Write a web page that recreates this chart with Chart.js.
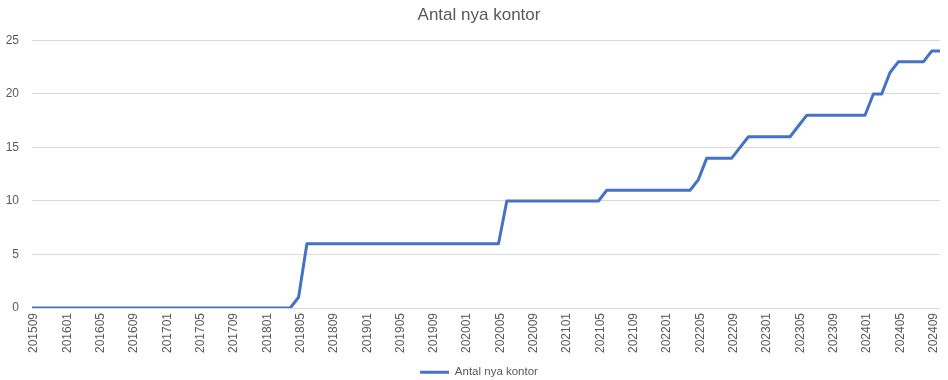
<!DOCTYPE html>
<html>
<head>
<meta charset="utf-8">
<script src="https://cdn.jsdelivr.net/npm/chart.js@4/dist/chart.umd.min.js"></script>
<style>
  html, body { margin: 0; padding: 0; background: #ffffff; }
  #wrap { width: 948px; height: 380px; position: relative; }
</style>
</head>
<body>
<div id="wrap"><canvas id="c" width="948" height="380"></canvas></div>
<script>
const chartTitle = "Antal nya kontor";
const seriesName = "Antal nya kontor";

const months = [
  "201509","201510","201511","201512",
  "201601","201602","201603","201604","201605","201606","201607","201608","201609","201610","201611","201612",
  "201701","201702","201703","201704","201705","201706","201707","201708","201709","201710","201711","201712",
  "201801","201802","201803","201804","201805","201806","201807","201808","201809","201810","201811","201812",
  "201901","201902","201903","201904","201905","201906","201907","201908","201909","201910","201911","201912",
  "202001","202002","202003","202004","202005","202006","202007","202008","202009","202010","202011","202012",
  "202101","202102","202103","202104","202105","202106","202107","202108","202109","202110","202111","202112",
  "202201","202202","202203","202204","202205","202206","202207","202208","202209","202210","202211","202212",
  "202301","202302","202303","202304","202305","202306","202307","202308","202309","202310","202311","202312",
  "202401","202402","202403","202404","202405","202406","202407","202408","202409","202410"
];

const antalNyaKontor = [
  0,0,0,0,
  0,0,0,0,0,0,0,0,0,0,0,0,
  0,0,0,0,0,0,0,0,0,0,0,0,
  0,0,0,0,1,6,6,6,6,6,6,6,
  6,6,6,6,6,6,6,6,6,6,6,6,
  6,6,6,6,6,10,10,10,10,10,10,10,
  10,10,10,10,10,11,11,11,11,11,11,11,
  11,11,11,11,12,14,14,14,14,15,16,16,
  16,16,16,16,17,18,18,18,18,18,18,18,
  18,20,20,22,23,23,23,23,24,24
];

const yTicks = [0, 5, 10, 15, 20, 25];
const labelEvery = 4;

const textColor = "#595959";
const gridColor = "#d9d9d9";
const lineColor = "#4472C4";
const fontFamily = "'Liberation Sans', Arial, sans-serif";
const bottomShift = 8;

new Chart(document.getElementById("c"), {
  type: "line",
  data: {
    labels: months,
    datasets: [{
      label: seriesName,
      data: antalNyaKontor,
      borderColor: lineColor,
      backgroundColor: lineColor,
      borderWidth: 3,
      pointRadius: 0,
      pointHoverRadius: 0,
      tension: 0,
      fill: false,
      borderJoinStyle: "round"
    }]
  },
  options: {
    responsive: false,
    devicePixelRatio: 1,
    animation: false,
    layout: { padding: { left: 0, right: -10, top: 0, bottom: -bottomShift } },
    plugins: {
      title: {
        display: true,
        text: chartTitle,
        color: textColor,
        font: { family: fontFamily, size: 17, weight: "normal", lineHeight: 1.2 },
        padding: { top: 5, bottom: 15 }
      },
      legend: {
        display: true,
        position: "bottom",
        labels: {
          color: textColor,
          font: { family: fontFamily, size: 11.5 },
          usePointStyle: true,
          pointStyle: "line",
          pointStyleWidth: 29,
          boxHeight: 3,
          padding: 4
        }
      },
      tooltip: { enabled: false }
    },
    scales: {
      x: {
        offset: false,
        grid: { display: false, drawTicks: false },
        border: { display: false },
        ticks: {
          autoSkip: false,
          minRotation: 90,
          maxRotation: 90,
          padding: 5,
          labelOffset: 2,
          color: textColor,
          font: { family: fontFamily, size: 12 },
          callback: function (v, i) {
            return i % labelEvery === 0 ? this.getLabelForValue(v) : null;
          }
        },
        afterFit: function (scale) {
          const lh = scale.chart.legend ? scale.chart.legend.height : 20;
          scale.height = 380 + bottomShift - lh - 308;
          scale.paddingLeft = 0;
          scale.paddingRight = 8;
        }
      },
      y: {
        min: yTicks[0],
        max: yTicks[yTicks.length - 1],
        grid: { color: gridColor, lineWidth: 1, drawTicks: false },
        border: { display: false },
        ticks: {
          stepSize: 5,
          padding: 13,
          color: textColor,
          font: { family: fontFamily, size: 12 }
        },
        afterBuildTicks: function (scale) {
          scale.ticks = yTicks.map(v => ({ value: v }));
        },
        afterFit: function (scale) { scale.width = 32; }
      }
    }
  }
});
</script>
</body>
</html>
